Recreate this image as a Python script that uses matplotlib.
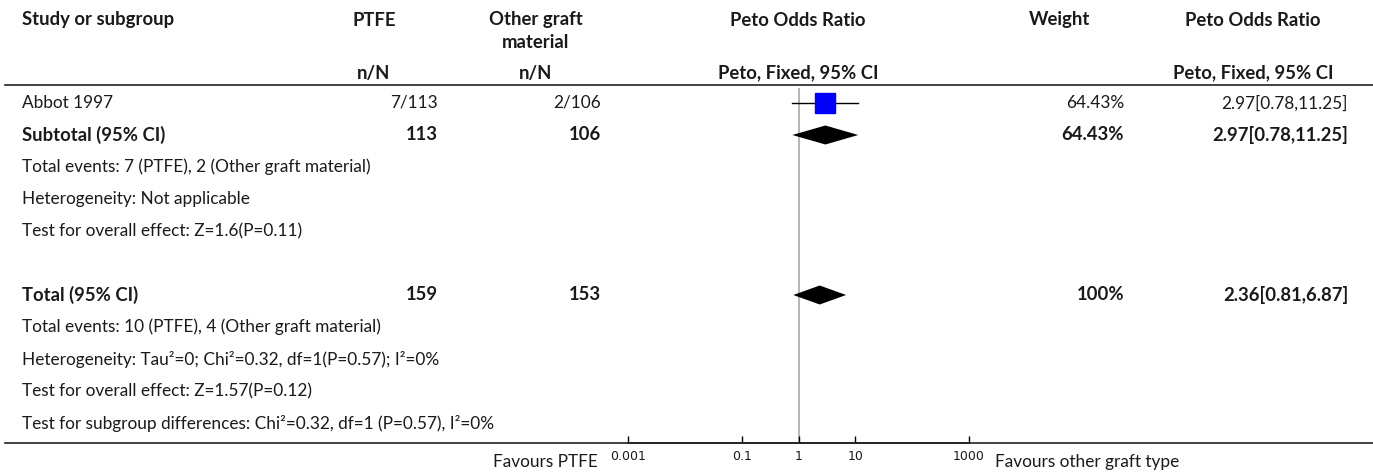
import numpy as np
import matplotlib
matplotlib.use('Agg')
import matplotlib.pyplot as plt

FONT = 'Lato'
FS = 12.4
FS_BOLD = 13.3
TXT = '#1a1a1a'

# study level data
study_names = ['Abbot 1997']
ptfe_nN = ['7/113']
other_nN = ['2/106']
study_or = [2.97]
study_lo = [0.78]
study_hi = [11.25]
study_weight = ['64.43%']
study_ci_text = ['2.97[0.78,11.25]']

# subtotal / total summary
summary_labels = ['Subtotal (95% CI)', 'Total (95% CI)']
summary_ptfe = ['113', '159']
summary_other = ['106', '153']
summary_or = [2.97, 2.36]
summary_lo = [0.78, 0.81]
summary_hi = [11.25, 6.87]
summary_weight = ['64.43%', '100%']
summary_ci_text = ['2.97[0.78,11.25]', '2.36[0.81,6.87]']

notes_sub = ['Total events: 7 (PTFE), 2 (Other graft material)',
             'Heterogeneity: Not applicable',
             'Test for overall effect: Z=1.6(P=0.11)']
notes_total = ['Total events: 10 (PTFE), 4 (Other graft material)',
               'Heterogeneity: Tau\u00b2=0; Chi\u00b2=0.32, df=1(P=0.57); I\u00b2=0%',
               'Test for overall effect: Z=1.57(P=0.12)',
               'Test for subgroup differences: Chi\u00b2=0.32, df=1 (P=0.57), I\u00b2=0%']

tick_vals = [0.001, 0.1, 1, 10, 1000]
tick_labels = ['0.001', '0.1', '1', '10', '1000']

W, H = 1373, 475
fig = plt.figure(figsize=(W / 100, H / 100), dpi=100)
ax = fig.add_axes([0, 0, 1, 1])
ax.set_xlim(0, W)
ax.set_ylim(H, 0)
ax.axis('off')

def txt(x, y, s, ha='left', bold=False):
    ax.text(x, y, s, ha=ha, va='center', fontsize=FS_BOLD if bold else FS, color=TXT,
            family=[FONT, 'DejaVu Sans'], fontweight='bold' if bold else 'normal')

# header
txt(22, 20, 'Study or subgroup', bold=True)
txt(374, 20, 'PTFE', ha='center', bold=True)
txt(374, 73, 'n/N', ha='center', bold=True)
txt(536, 20, 'Other graft', ha='center', bold=True)
txt(536, 42, 'material', ha='center', bold=True)
txt(536, 73, 'n/N', ha='center', bold=True)
txt(798, 20, 'Peto Odds Ratio', ha='center', bold=True)
txt(798, 73, 'Peto, Fixed, 95% CI', ha='center', bold=True)
txt(1060, 20, 'Weight', ha='center', bold=True)
txt(1253, 20, 'Peto Odds Ratio', ha='center', bold=True)
txt(1253, 73, 'Peto, Fixed, 95% CI', ha='center', bold=True)
ax.plot([5, W], [85, 85], color='#222222', lw=1.2)
ax.plot([5, W], [443, 443], color='#222222', lw=1.2)

ROW0, STEP = 103, 32
def rowy(i):
    return ROW0 + STEP * i

COLX = [22, 438, 601, 1124, 1348]

# rows of the table
for i, name in enumerate(study_names):
    y = rowy(i)
    txt(COLX[0], y, name)
    txt(COLX[1], y, ptfe_nN[i], ha='right')
    txt(COLX[2], y, other_nN[i], ha='right')
    txt(COLX[3], y, study_weight[i], ha='right')
    txt(COLX[4], y, study_ci_text[i], ha='right')

summary_rows = [1, 6]
for k, r in enumerate(summary_rows):
    y = rowy(r)
    txt(COLX[0], y, summary_labels[k], bold=True)
    txt(COLX[1], y, summary_ptfe[k], ha='right', bold=True)
    txt(COLX[2], y, summary_other[k], ha='right', bold=True)
    txt(COLX[3], y, summary_weight[k], ha='right', bold=True)
    txt(COLX[4], y, summary_ci_text[k], ha='right', bold=True)

for j, s in enumerate(notes_sub):
    txt(COLX[0], rowy(2 + j), s)
for j, s in enumerate(notes_total):
    txt(COLX[0], rowy(7 + j), s)

txt(598, 462, 'Favours PTFE', ha='right')
txt(995, 462, 'Favours other graft type')

# forest panel, log scale
x0, x1 = 628, 969
ytop, ybot = 88, 443
fax = fig.add_axes([x0 / W, (H - ybot) / H, (x1 - x0) / W, (ybot - ytop) / H])
fax.set_xscale('log')
fax.set_xlim(0.001, 1000)
fax.set_ylim(ybot, ytop)
fax.patch.set_alpha(0)
for sp in ['top', 'left', 'right']:
    fax.spines[sp].set_visible(False)
fax.spines['bottom'].set_color('#222222')
fax.spines['bottom'].set_linewidth(1.2)
fax.set_yticks([])
fax.set_xticks(tick_vals)
fax.set_xticklabels(tick_labels, fontsize=9, color=TXT, family='DejaVu Sans')
fax.xaxis.set_minor_locator(matplotlib.ticker.NullLocator())
fax.tick_params(axis='x', direction='in', length=5, width=1, pad=5)
fax.axvline(1, color='#a8a8a8', lw=1.2, zorder=1)

for i in range(len(study_names)):
    y = rowy(i)
    fax.plot([study_lo[i], study_hi[i]], [y, y], color='black', lw=1, zorder=2)
    fax.plot(study_or[i], y, marker='s', markersize=15, color='#0000ff', mec='#0000ff', zorder=3)
    fax.plot(study_or[i], y, marker='|', markersize=6, color='black', mew=0.8, zorder=4)

for k, r in enumerate(summary_rows):
    y = rowy(r)
    h = 9.5
    fax.fill([summary_lo[k], summary_or[k], summary_hi[k], summary_or[k]],
             [y, y - h, y, y + h], color='black', lw=0, zorder=3)

fig.savefig('out.png', dpi=100)
